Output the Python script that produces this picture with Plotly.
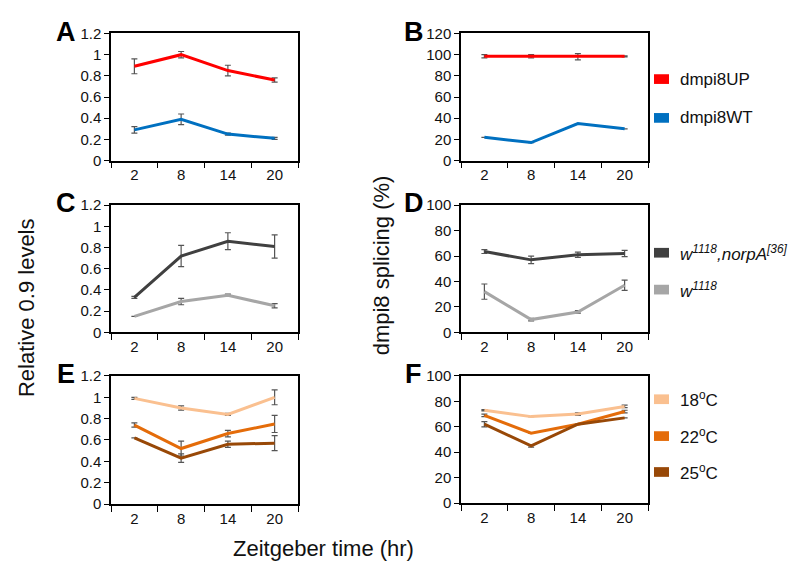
import plotly.graph_objects as go

# ---------------- data ----------------
times = ["2", "8", "14", "20"]

# Panel A (relative 0.9 levels)
a_up = [0.89, 1.00, 0.85, 0.76]
a_up_err = [0.07, 0.03, 0.05, 0.02]
a_wt = [0.29, 0.39, 0.25, 0.21]
a_wt_err = [0.03, 0.05, 0.01, 0.01]

# Panel B (dmpi8 splicing %)
b_up = [98.5, 98.5, 98.0, 98.5]
b_up_err = [1.5, 1.5, 3.0, 0.5]
b_wt = [22, 17, 35, 30]
b_wt_err = [0, 0, 0, 0]

# Panel C
c_norpa = [0.33, 0.72, 0.86, 0.81]
c_norpa_err = [0.01, 0.10, 0.08, 0.11]
c_w = [0.15, 0.29, 0.35, 0.25]
c_w_err = [0.0, 0.03, 0.01, 0.02]

# Panel D
d_norpa = [63.5, 57, 61, 62]
d_norpa_err = [1.5, 3, 2, 2.5]
d_w = [32, 10, 16, 37]
d_w_err = [6, 1, 1, 4]

# Panel E
e_18 = [0.99, 0.90, 0.84, 1.00]
e_18_err = [0.01, 0.02, 0.01, 0.07]
e_22 = [0.74, 0.52, 0.66, 0.75]
e_22_err = [0.02, 0.07, 0.03, 0.08]
e_25 = [0.62, 0.43, 0.56, 0.57]
e_25_err = [0.0, 0.04, 0.03, 0.07]

# Panel F
f_18 = [73, 68, 70, 76]
f_18_err = [0.5, 0, 1, 1]
f_22 = [69, 55, 62, 72]
f_22_err = [1, 0, 0, 1]
f_25 = [62, 45, 62, 67]
f_25_err = [2, 1, 0, 0]

names_ab = ["dmpi8UP", "dmpi8WT"]
names_cd = ["<i>w<sup>1118</sup>,norpA<sup>[36]</sup></i>", "<i>w<sup>1118</sup></i>"]
names_ef = ["18<sup>o</sup>C", "22<sup>o</sup>C", "25<sup>o</sup>C"]

col_ab = ["#FF0000", "#0070C0"]
col_cd = ["#404040", "#A6A6A6"]
col_ef = ["#FAC090", "#E46C0A", "#984807"]

# ---------------- figure ----------------
W, H = 800, 569
FONT = "Liberation Sans, Arial, sans-serif"
fig = go.Figure()

def px_x(x):
    return x / W

def px_y(y):
    return 1 - y / H

# panel geometry in pixels: (x0, x1, ytop, ybottom)
panels = {
    1: (103, 290, 17, 148),
    2: (453, 640, 17, 148),
    3: (103, 290, 194, 325),
    4: (453, 640, 194, 325),
    5: (103, 290, 370, 502),
    6: (453, 640, 370, 501),
}

def add_series(idx, y, err, name, color):
    suffix = "" if idx == 1 else str(idx)
    fig.add_trace(go.Scatter(
        x=times, y=y, mode="lines", name=name,
        line=dict(color=color, width=3),
        error_y=dict(type="data", array=err, visible=True,
                     color="#555555", thickness=1.2, width=3),
        xaxis="x" + suffix, yaxis="y" + suffix, showlegend=False,
    ))

add_series(1, a_up, a_up_err, names_ab[0], col_ab[0])
add_series(1, a_wt, a_wt_err, names_ab[1], col_ab[1])
add_series(2, b_up, b_up_err, names_ab[0], col_ab[0])
add_series(2, b_wt, b_wt_err, names_ab[1], col_ab[1])
add_series(3, c_norpa, c_norpa_err, names_cd[0], col_cd[0])
add_series(3, c_w, c_w_err, names_cd[1], col_cd[1])
add_series(4, d_norpa, d_norpa_err, names_cd[0], col_cd[0])
add_series(4, d_w, d_w_err, names_cd[1], col_cd[1])
add_series(5, e_18, e_18_err, names_ef[0], col_ef[0])
add_series(5, e_22, e_22_err, names_ef[1], col_ef[1])
add_series(5, e_25, e_25_err, names_ef[2], col_ef[2])
add_series(6, f_18, f_18_err, names_ef[0], col_ef[0])
add_series(6, f_22, f_22_err, names_ef[1], col_ef[1])
add_series(6, f_25, f_25_err, names_ef[2], col_ef[2])

tickfont = dict(family=FONT, size=15, color="#111111")

layout = dict(
    width=W, height=H,
    margin=dict(l=0, r=0, t=0, b=0),
    paper_bgcolor="white", plot_bgcolor="white",
    font=dict(family=FONT, size=15, color="#111111"),
    showlegend=False,
)

yspec = {
    1: (1.2, 0.2), 2: (120, 20), 3: (1.2, 0.2), 4: (100, 20), 5: (1.2, 0.2), 6: (100, 20),
}

for i, (x0, x1, yt, yb) in panels.items():
    suffix = "" if i == 1 else str(i)
    layout["xaxis" + suffix] = dict(
        domain=[px_x(x0), px_x(x1)], anchor="y" + suffix,
        type="category", categoryorder="array", categoryarray=times,
        range=[-0.5, 3.5], tickson="boundaries",
        ticks="outside", ticklen=6, tickwidth=1.2, tickcolor="black",
        showline=True, linecolor="black", linewidth=1.5, mirror=True,
        showgrid=False, zeroline=False, tickfont=tickfont, fixedrange=True,
    )
    ymax, dt = yspec[i]
    layout["yaxis" + suffix] = dict(
        domain=[px_y(yb), px_y(yt)], anchor="x" + suffix,
        range=[0, ymax], dtick=dt, tick0=0,
        ticks="outside", ticklen=5, tickwidth=1.2, tickcolor="black",
        showline=True, linecolor="black", linewidth=1.5, mirror=True,
        showgrid=False, zeroline=False, tickfont=tickfont, fixedrange=True,
        tickformat="~g",
    )

fig.update_layout(**layout)

# panel letters
letters = {"A": (58, 15), "B": (406, 15), "C": (58, 192), "D": (406, 192), "E": (58, 368), "F": (406, 368)}
for t, (x, y) in letters.items():
    fig.add_annotation(text="<b>%s</b>" % t, x=px_x(x), y=px_y(y), xref="paper", yref="paper",
                       showarrow=False, xanchor="center", yanchor="middle",
                       font=dict(size=27, color="black", family=FONT))

# axis titles
fig.add_annotation(text="Relative 0.9 levels", x=px_x(18), y=px_y(300), xref="paper", yref="paper",
                   showarrow=False, textangle=-90, xanchor="center", yanchor="middle",
                   font=dict(size=22, color="#111111", family=FONT))
fig.add_annotation(text="dmpi8 splicing (%)", x=px_x(373), y=px_y(256), xref="paper", yref="paper",
                   showarrow=False, textangle=-90, xanchor="center", yanchor="middle",
                   font=dict(size=22, color="#111111", family=FONT))
fig.add_annotation(text="Zeitgeber time (hr)", x=px_x(315), y=px_y(548), xref="paper", yref="paper",
                   showarrow=False, xanchor="center", yanchor="middle",
                   font=dict(size=22, color="#111111", family=FONT))

# legends (swatch + label)
def legend_item(label, color, yc):
    fig.add_shape(type="rect", xref="paper", yref="paper",
                  x0=px_x(646), x1=px_x(661), y0=px_y(yc + 5), y1=px_y(yc - 5),
                  fillcolor=color, line=dict(width=0))
    fig.add_annotation(text=label, x=px_x(670), y=px_y(yc), xref="paper", yref="paper",
                       showarrow=False, xanchor="left", yanchor="middle",
                       font=dict(size=17, color="#111111", family=FONT))

for lab, col, yc in zip(names_ab, col_ab, [64, 104]):
    legend_item(lab, col, yc)
for lab, col, yc in zip(names_cd, col_cd, [243, 281]):
    legend_item(lab, col, yc)
for lab, col, yc in zip(names_ef, col_ef, [394, 432, 469]):
    legend_item(lab, col, yc)

fig.write_html("out.html")
